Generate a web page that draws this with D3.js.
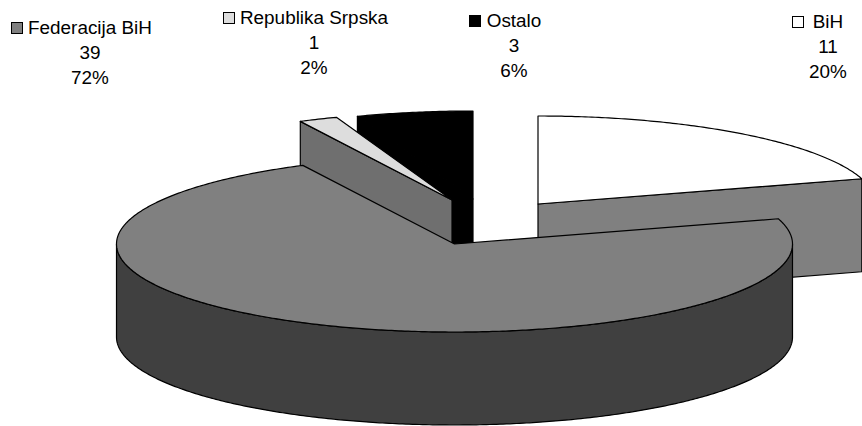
<!DOCTYPE html>
<html><head><meta charset="utf-8">
<script src="https://cdn.jsdelivr.net/npm/d3@7/dist/d3.min.js"></script>
<style>html,body{margin:0;padding:0;background:#fff}svg{display:block}text{font-family:"Liberation Sans",Arial,sans-serif;font-size:18.9px;fill:#000}</style>
</head><body><svg id="c" width="862" height="426"></svg>
<script>
const categories = ["BiH","Federacija BiH","Republika Srpska","Ostalo"];
const values = [11,39,1,3];
const percents = ["20%","72%","2%","6%"];
const topColors = ["#ffffff","#808080","#dddddd","#000000"];
const rimColors = ["#808080","#404040","#6f6f6f","#000000"];
const centers = [[538,204],[454.5,244],[452,200],[473,199]];
const legendPos = [[828,27.5],[90,33.5],[314,24],[514,26.5]];
const markerX = [792.5,11.5,223.5,469.5];
const RX=338, RY=88, DEPTH=93, W=862, H=426;

const svg = d3.select("#c");
const arcs = d3.pie().sort(null).value(d=>d).startAngle(0).endAngle(2*Math.PI)(values);
const sx = d3.scaleLinear().domain([-1,1]).range([-RX,RX]);
const sy = d3.scaleLinear().domain([-1,1]).range([RY,-RY]);
const line = d3.line();
function rim(c,a0,a1,dz){
  const n=Math.max(2,Math.ceil(Math.abs(a1-a0)/0.01)), pts=[];
  for(let i=0;i<=n;i++){const a=a0+(a1-a0)*i/n;
    pts.push([c[0]+sx(Math.sin(a)),c[1]+sy(Math.cos(a))+dz]);}
  return pts;
}
const g = svg.append("g");
const shape=(pts,fill)=>g.append("path").attr("d",line(pts)+"Z").attr("fill",fill).attr("stroke","#000").attr("stroke-width",1.2).attr("stroke-linejoin","round");

function cutWall(i,ang){
  const c=centers[i], p=rim(c,ang,ang,0)[0];
  shape([c,p,[p[0],p[1]+DEPTH],[c[0],c[1]+DEPTH]],rimColors[i]);
}
function drawTop(i){
  const c=centers[i], d=arcs[i];
  shape([c,...rim(c,d.startAngle,d.endAngle,0)],topColors[i]);
}
// draw back to front
[3,0,2,1].forEach(i=>{
  const d=arcs[i];
  if(i===0){ cutWall(0,d.endAngle); }
  if(i===3){ cutWall(3,d.startAngle); }
  if(i===2){ cutWall(2,d.startAngle); }
  if(i===1){
    const a0=Math.PI/2,a1=3*Math.PI/2, c=centers[1];
    shape([...rim(c,a0,a1,0),...rim(c,a1,a0,DEPTH)],rimColors[1]);
  }
  drawTop(i);
});

// legend
categories.forEach((name,i)=>{
  const [x,y]=legendPos[i];
  const t=svg.append("text").attr("text-anchor","middle").attr("x",x).attr("y",y);
  t.append("tspan").attr("x",x).text(name);
  t.append("tspan").attr("x",x).attr("dy",25.3).text(values[i]);
  t.append("tspan").attr("x",x).attr("dy",25).text(percents[i]);
  svg.append("rect").attr("x",markerX[i]).attr("y",Math.round(y)-11.5).attr("width",11).attr("height",11)
    .attr("fill",topColors[i]).attr("stroke","#000").attr("stroke-width",1);
});
</script></body></html>
